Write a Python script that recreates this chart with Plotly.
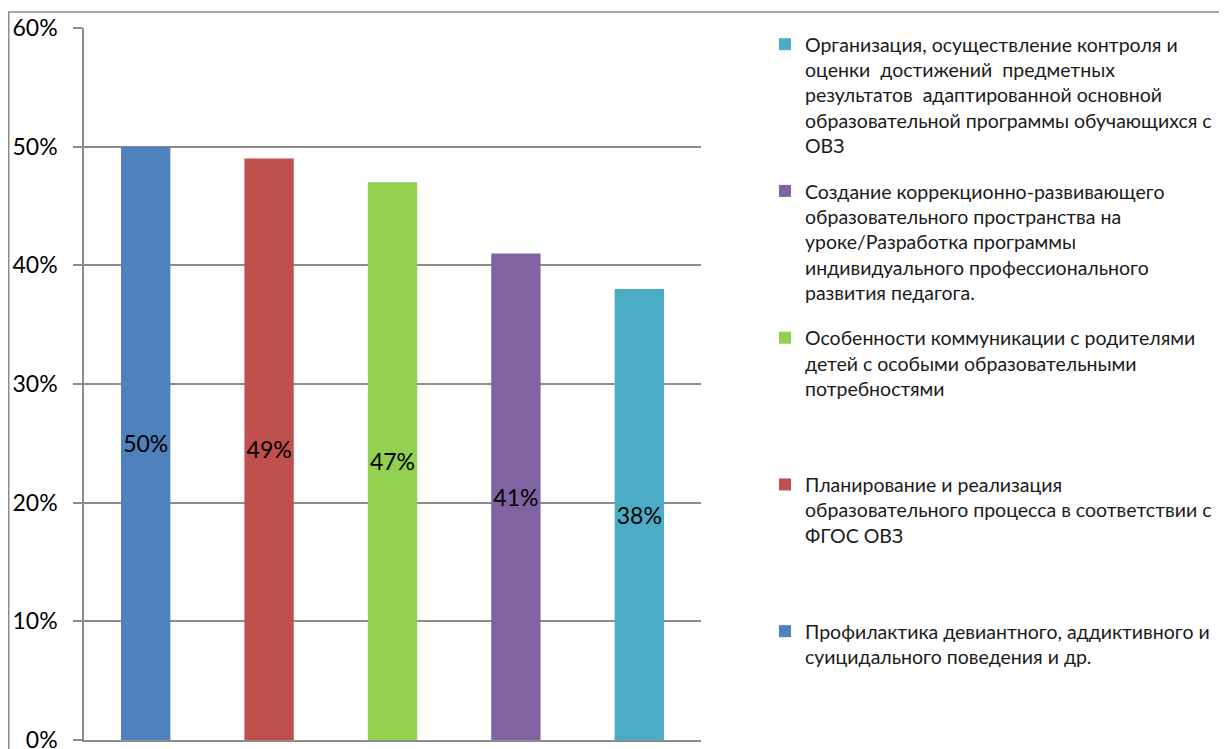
import plotly.graph_objects as go

categories = ["c1", "c2", "c3", "c4", "c5"]
values = [0.50, 0.49, 0.47, 0.41, 0.38]
labels = ["50%", "49%", "47%", "41%", "38%"]
names = [
    "Профилактика девиантного, аддиктивного и<br>суицидального поведения и др.",
    "Планирование и реализация<br>образовательного процесса в соответствии с<br>ФГОС ОВЗ<br> <br> ",
    "Особенности коммуникации с родителями<br>детей с особыми образовательными<br>потребностями<br> <br> ",
    "Создание коррекционно-развивающего<br>образовательного пространства на<br>уроке/Разработка программы<br>индивидуального профессионального<br>развития педагога.",
    "Организация, осуществление контроля и<br>оценки  достижений  предметных<br>результатов  адаптированной основной<br>образовательной программы обучающихся с<br>ОВЗ",
]
colors = ["#4F81BD", "#C0504D", "#92D050", "#8064A2", "#4BACC6"]
y_ticks = [0, 0.1, 0.2, 0.3, 0.4, 0.5, 0.6]
y_tick_text = ["0%", "10%", "20%", "30%", "40%", "50%", "60%"]

FONT = "Lato"

fig = go.Figure()
# legend lists the last category first
for i in reversed(range(len(categories))):
    fig.add_trace(go.Bar(
        x=[categories[i]], y=[values[i]], name=names[i],
        marker=dict(color=colors[i], line=dict(width=0)),
        width=0.4, text=[labels[i]], textposition="inside",
        insidetextanchor="middle", constraintext="none", textangle=0,
        textfont=dict(family=FONT, size=23, color="black"),
        legendgroup=f"g{i}", cliponaxis=False,
    ))

# page body has an 8px margin, so work in window pixels and shift
OFF = 8
W, H = 1227 - OFF, 749 - OFF
L, R, T, B = 84 - OFF, 701 - OFF, 28 - OFF, 740.3 - OFF
pw, ph = R - L, B - T

def px_x(x):
    return (x - OFF - L) / pw

def px_y(y):
    return (B - (y - OFF)) / ph

fig.update_layout(
    width=W, height=H,
    margin=dict(l=L, r=W - R, t=T, b=H - B, pad=0, autoexpand=False),
    plot_bgcolor="white", paper_bgcolor="white",
    barmode="overlay",
    uniformtext=dict(minsize=23, mode="show"),
    font=dict(family=FONT, color="black"),
    showlegend=True,
    legend=dict(
        x=px_x(765), y=px_y(25), xanchor="left", yanchor="top",
        traceorder="grouped", tracegroupgap=17, maxheight=730,
        font=dict(family=FONT, size=19.5, color="#1a1a1a"),
        valign="top", itemwidth=30, bgcolor="rgba(0,0,0,0)",
    ),
    xaxis=dict(
        showline=True, linecolor="#8c8c8c", linewidth=1.5,
        showticklabels=False, showgrid=False, ticks="",
        categoryorder="array", categoryarray=categories, automargin=False,
    ),
    yaxis=dict(
        range=[0, 0.6], tickvals=y_ticks, ticktext=y_tick_text,
        showgrid=True, gridcolor="#8c8c8c", gridwidth=1.5,
        showline=True, linecolor="#8c8c8c", linewidth=1.5,
        ticks="outside", ticklen=9, tickcolor="#8c8c8c", tickwidth=1.5,
        tickfont=dict(family=FONT, size=23, color="black"),
        ticklabelstandoff=11, zeroline=False, ticklabeloverflow="allow",
        automargin=False,
    ),
    shapes=[dict(
        type="rect", xref="paper", yref="paper",
        x0=px_x(8.75), x1=px_x(1260), y0=px_y(790), y1=px_y(12),
        line=dict(color="#8c8c8c", width=1.5), fillcolor="rgba(0,0,0,0)",
        layer="below",
    )],
)

fig.write_html("out.html")
